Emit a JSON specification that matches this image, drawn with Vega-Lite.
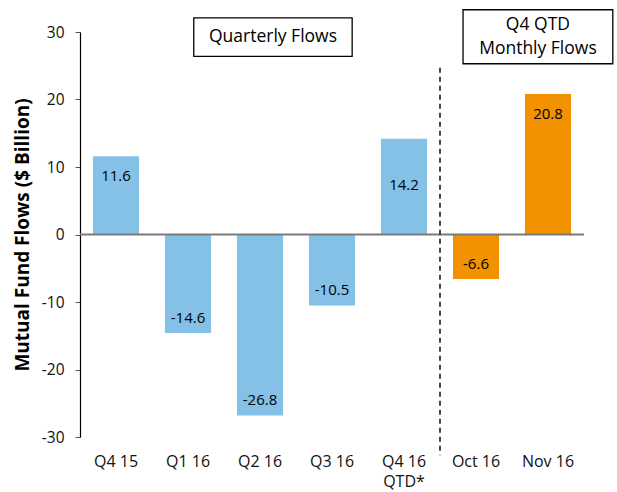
{
  "$schema": "https://vega.github.io/schema/vega-lite/v6.json",
  "width": 504,
  "height": 405,
  "autosize": {"type": "none"},
  "padding": {"left": 80, "top": 32, "right": 33, "bottom": 55},
  "config": {"font": "Open Sans", "view": {"stroke": null}},
  "data": {
    "values": [
      {"cat": "Q4 15", "value": 11.6, "group": "Quarterly"},
      {"cat": "Q1 16", "value": -14.6, "group": "Quarterly"},
      {"cat": "Q2 16", "value": -26.8, "group": "Quarterly"},
      {"cat": "Q3 16", "value": -10.5, "group": "Quarterly"},
      {"cat": "Q4 16 QTD*", "value": 14.2, "group": "Quarterly"},
      {"cat": "Oct 16", "value": -6.6, "group": "Monthly"},
      {"cat": "Nov 16", "value": 20.8, "group": "Monthly"}
    ]
  },
  "encoding": {
    "x": {
      "field": "cat",
      "type": "nominal",
      "sort": null,
      "scale": {"paddingInner": 0, "paddingOuter": 0},
      "axis": {
        "title": null,
        "domain": false,
        "ticks": false,
        "labelAngle": 0,
        "labelFontSize": 16,
        "labelFont": "Open Sans",
        "labelColor": "#111",
        "labelPadding": 16,
        "labelLineHeight": 20,
        "labelExpr": "datum.label == 'Q4 16 QTD*' ? ['Q4 16', 'QTD*'] : datum.label"
      }
    }
  },
  "layer": [
    {
      "mark": {"type": "bar", "width": {"band": 0.64}},
      "encoding": {
        "y": {
          "field": "value",
          "type": "quantitative",
          "scale": {"domain": [-30, 30], "nice": false},
          "axis": {
            "title": "Mutual Fund Flows ($ Billion)",
            "titleFont": "Open Sans",
            "titleFontSize": 19,
            "titleFontWeight": "bold",
            "titleColor": "#000",
            "titlePadding": 9,
            "values": [-30, -20, -10, 0, 10, 20, 30],
            "labelExpr": "toString(datum.value)",
            "grid": false,
            "domainColor": "#000",
            "domainWidth": 1.2,
            "tickColor": "#555",
            "tickSize": 5,
            "labelFont": "Open Sans",
            "labelFontSize": 15.5,
            "labelColor": "#111",
            "labelPadding": 11
          }
        },
        "color": {
          "field": "group",
          "type": "nominal",
          "scale": {"domain": ["Quarterly", "Monthly"], "range": ["#85C1E6", "#F39200"]},
          "legend": null
        }
      }
    },
    {
      "data": {"values": [{}]},
      "mark": {"type": "rule", "color": "#7a7a7a", "strokeWidth": 2},
      "encoding": {"x": null, "y": {"datum": 0, "type": "quantitative"}}
    },
    {
      "transform": [{"filter": "datum.value > 0 && datum.cat != 'Q4 16 QTD*'"}],
      "mark": {"type": "text", "font": "Open Sans", "fontSize": 15, "fontWeight": 400, "color": "#000", "baseline": "middle", "dy": 20},
      "encoding": {
        "y": {"field": "value", "type": "quantitative"},
        "text": {"field": "value", "type": "nominal"}
      }
    },
    {
      "transform": [{"filter": "datum.cat == 'Q4 16 QTD*'"}],
      "mark": {"type": "text", "font": "Open Sans", "fontSize": 15, "fontWeight": 400, "color": "#000", "baseline": "middle", "dy": 46},
      "encoding": {
        "y": {"field": "value", "type": "quantitative"},
        "text": {"field": "value", "type": "nominal"}
      }
    },
    {
      "transform": [{"filter": "datum.value < 0"}],
      "mark": {"type": "text", "font": "Open Sans", "fontSize": 15, "fontWeight": 400, "color": "#000", "baseline": "middle", "dy": -15},
      "encoding": {
        "y": {"field": "value", "type": "quantitative"},
        "text": {"field": "value", "type": "nominal"}
      }
    },
    {
      "data": {"values": [{}]},
      "mark": {"type": "rule", "color": "#1a1a1a", "strokeWidth": 1.6, "strokeDash": [5, 4]},
      "encoding": {
        "x": {"datum": "Q4 16 QTD*", "bandPosition": 1},
        "y": {"datum": 24.7, "type": "quantitative"},
        "y2": {"datum": -32.7}
      }
    },
    {
      "data": {"values": [{}]},
      "mark": {"type": "rect", "fill": "white", "stroke": "#000", "strokeWidth": 1.3},
      "encoding": {
        "x": {"datum": "Q1 16", "bandPosition": 0.58},
        "x2": {"datum": "Q3 16", "bandPosition": 0.78},
        "y": {"datum": 32.1, "type": "quantitative"},
        "y2": {"datum": 26.4}
      }
    },
    {
      "data": {"values": [{}]},
      "mark": {"type": "rect", "fill": "white", "stroke": "#000", "strokeWidth": 1.3},
      "encoding": {
        "x": {"datum": "Oct 16", "bandPosition": 0.32},
        "x2": {"datum": "Nov 16", "bandPosition": 1.4},
        "y": {"datum": 33.3, "type": "quantitative"},
        "y2": {"datum": 25.3}
      }
    },
    {
      "data": {"values": [{}]},
      "mark": {"type": "text", "font": "Open Sans", "fontSize": 17.5, "fontWeight": 400, "color": "#000", "baseline": "middle", "align": "center"},
      "encoding": {
        "x": {"datum": "Q2 16", "bandPosition": 0.68},
        "y": {"datum": 29.3, "type": "quantitative"},
        "text": {"value": "Quarterly Flows"}
      }
    },
    {
      "data": {"values": [{}]},
      "mark": {"type": "text", "font": "Open Sans", "fontSize": 17.5, "fontWeight": 400, "color": "#000", "baseline": "middle", "align": "center", "lineHeight": 24, "dy": -12},
      "encoding": {
        "x": {"datum": "Nov 16", "bandPosition": 0.36},
        "y": {"datum": 29.3, "type": "quantitative"},
        "text": {"value": ["Q4 QTD", "Monthly Flows"]}
      }
    }
  ]
}
